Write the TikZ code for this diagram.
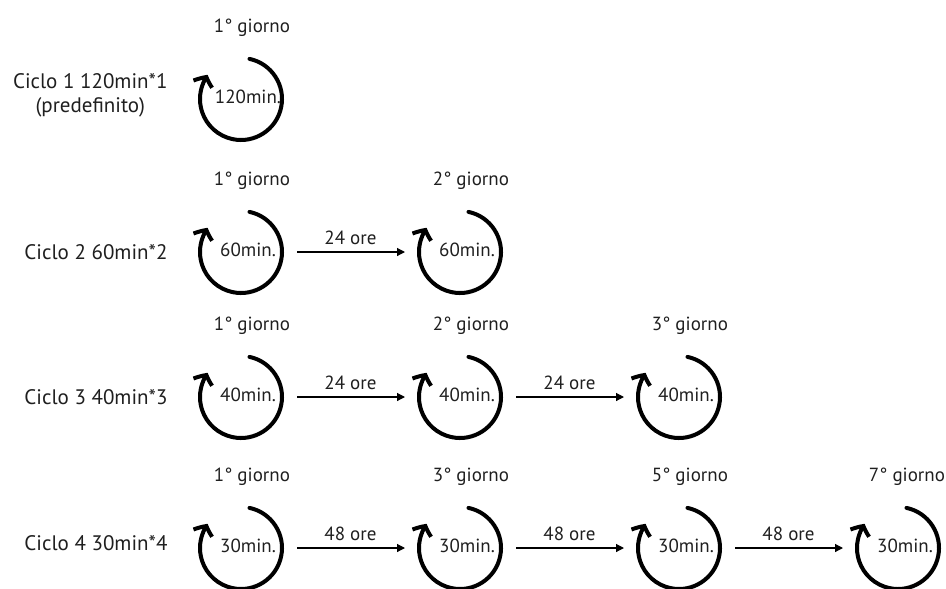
\documentclass[tikz,border=0pt]{standalone}
\usepackage{fontspec}
\setmainfont{PT Sans}
\usetikzlibrary{arrows.meta,bending,positioning}

\begin{document}
\begin{tikzpicture}[x=1pt,y=1pt,
every node/.style={text=black!88, font=\fontsize{19}{23}\selectfont},
slot/.style={circle,minimum size=82pt,inner sep=0pt,outer sep=0pt},
ring/.style={line width=4pt,line cap=round,line join=round,-{Straight Barb[length=8pt,width=20pt,bend]}},
gap/.style={line width=1.2pt,-{Triangle[length=8pt,width=8pt]},shorten <=15pt,shorten >=14pt},
day/.style={above=18pt of #1,xshift=11pt},
cycle/.style={left=29pt of #1,align=center,font=\fontsize{21}{24}\selectfont}]
\useasboundingbox (0,0) rectangle (946,-589);

% row 1
\node[slot] (s11) at (241,-99) {};
\node[day=s11] (d11) {1° giorno};
\node[cycle=s11,yshift=4pt] (c1) {Ciclo 1 120min*1\\(predefinito)};

% row 2
\node[slot] (s21) at (241,-252) {};
\node[slot,right=137pt of s21] (s22) {};
\node[day=s21] (d21) {1° giorno};
\node[day=s22] (d22) {2° giorno};
\node[cycle=s21] (c2) {Ciclo 2 60min*2};
\draw[gap] (s21) -- node[above=3pt] (h21) {24 ore} (s22);

% row 3
\node[slot] (s31) at (241,-397) {};
\node[slot,right=137pt of s31] (s32) {};
\node[slot,right=137pt of s32] (s33) {};
\node[day=s31] (d31) {1° giorno};
\node[day=s32] (d32) {2° giorno};
\node[day=s33] (d33) {3° giorno};
\node[cycle=s31] (c3) {Ciclo 3 40min*3};
\draw[gap] (s31) -- node[above=3pt] (h31) {24 ore} (s32);
\draw[gap] (s32) -- node[above=3pt] (h32) {24 ore} (s33);

% row 4
\node[slot] (s41) at (241,-548) {};
\node[slot,right=137pt of s41] (s42) {};
\node[slot,right=137pt of s42] (s43) {};
\node[slot,right=137pt of s43] (s44) {};
\node[day=s41] (d41) {1° giorno};
\node[day=s42] (d42) {3° giorno};
\node[day=s43] (d43) {5° giorno};
\node[day=s44,xshift=-2pt] (d44) {7° giorno};
\node[cycle=s41,yshift=5pt] (c4) {Ciclo 4 30min*4};
\draw[gap] (s41) -- node[above=3pt] (h41) {48 ore} (s42);
\draw[gap] (s42) -- node[above=3pt] (h42) {48 ore} (s43);
\draw[gap] (s43) -- node[above=3pt] (h43) {48 ore} (s44);

% rings with minutes
\foreach \s/\m in {s11/120, s21/60, s22/60, s31/40, s32/40, s33/40,
                   s41/30, s42/30, s43/30, s44/30} {
  \draw[ring] (\s.78) arc[start angle=78,end angle=-216,radius=41pt];
  \node (m\s) at ([xshift=7pt,yshift=2pt]\s.center) {\m min.};
}
\end{tikzpicture}
\end{document}
